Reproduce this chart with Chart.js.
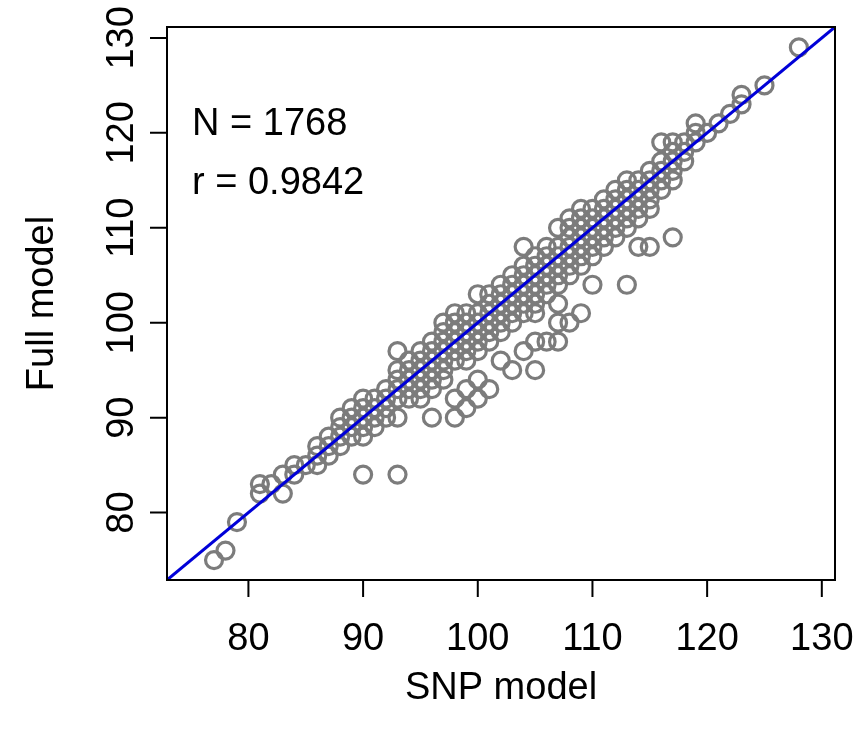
<!DOCTYPE html>
<html>
<head>
<meta charset="utf-8">
<script src="https://cdn.jsdelivr.net/npm/chart.js@4.4.1/dist/chart.umd.min.js"></script>
<style>
  html, body { margin: 0; padding: 0; background: #ffffff; }
  #wrap { width: 856px; height: 733px; }
</style>
</head>
<body>
<div id="wrap"><canvas id="snp-vs-full"></canvas></div>
<script>
// SNP model score (x) and the Full model scores seen at that x (y)
const snpScores = [77, 78, 79, 81, 82, 83, 84, 85, 86, 87, 88, 89, 90, 91, 92, 93, 94, 95, 96, 97,
  98, 99, 100, 101, 102, 103, 104, 105, 106, 107, 108, 109, 110, 111, 112, 113, 114, 115, 116, 117,
  118, 119, 120, 121, 122, 123, 125, 128];
const fullScores = [
  [75], [76], [79], [82, 83], [83], [82, 84], [84, 85], [85], [85, 86, 87], [86, 87, 88],
  [87, 88, 89, 90], [88, 89, 90, 91], [84, 88, 89, 90, 91, 92], [89, 90, 91, 92], [90, 91, 92, 93],
  [84, 90, 92, 93, 94, 95, 97], [92, 93, 94, 95, 96], [92, 93, 94, 95, 96, 97],
  [90, 93, 94, 95, 96, 97, 98], [94, 95, 96, 97, 98, 99, 100],
  [90, 92, 96, 97, 98, 99, 100, 101], [91, 93, 96, 97, 98, 99, 100, 101],
  [92, 94, 97, 98, 99, 100, 101, 103], [93, 98, 99, 100, 101, 102, 103],
  [96, 99, 100, 101, 102, 103, 104], [95, 100, 101, 102, 103, 104, 105],
  [97, 101, 102, 103, 104, 105, 106, 108], [95, 98, 101, 102, 103, 104, 105, 106, 107],
  [98, 103, 104, 105, 106, 107, 108], [98, 100, 102, 104, 105, 106, 107, 108, 110],
  [100, 105, 106, 107, 108, 109, 110, 111], [101, 106, 107, 108, 109, 110, 111, 112],
  [104, 107, 108, 109, 110, 111, 112], [108, 109, 110, 111, 112, 113],
  [109, 110, 111, 112, 113, 114], [104, 110, 111, 112, 113, 114, 115],
  [108, 111, 112, 113, 114, 115], [108, 112, 113, 114, 115, 116],
  [114, 115, 116, 117, 119], [109, 115, 116, 117, 118, 119],
  [117, 118, 119], [119, 120, 121], [120], [121], [122], [123, 124], [125], [129]
];
const tickValues = [80, 90, 100, 110, 120, 130];
const axisRange = [72.9, 131.15];
const sampleSize = 'N = 1768';
const correlation = 'r = 0.9842';

const FONT = '38px "Liberation Sans", Arial, sans-serif';

const points = [];
snpScores.forEach((x, i) => {
  fullScores[i].forEach(y => points.push({ x: x, y: y }));
});

// draws the R-style frame, ticks, labels and the N / r note
const frame = {
  id: 'frame',
  afterDraw(chart) {
    const ctx = chart.ctx;
    const area = chart.chartArea;
    const xs = chart.scales.x;
    const ys = chart.scales.y;
    ctx.save();
    ctx.strokeStyle = '#000000';
    ctx.lineWidth = 2;
    ctx.strokeRect(area.left, area.top, area.right - area.left, area.bottom - area.top);

    ctx.fillStyle = '#000000';
    ctx.font = FONT;
    ctx.beginPath();
    tickValues.forEach(v => {
      const px = xs.getPixelForValue(v);
      ctx.moveTo(px, area.bottom);
      ctx.lineTo(px, area.bottom + 17);
      const py = ys.getPixelForValue(v);
      ctx.moveTo(area.left, py);
      ctx.lineTo(area.left - 17, py);
    });
    ctx.stroke();

    ctx.textAlign = 'center';
    ctx.textBaseline = 'alphabetic';
    tickValues.forEach(v => {
      ctx.fillText(String(v), xs.getPixelForValue(v), 650);
    });
    ctx.fillText('SNP model', (area.left + area.right) / 2, 699);

    tickValues.forEach(v => {
      ctx.save();
      ctx.translate(133, ys.getPixelForValue(v));
      ctx.rotate(-Math.PI / 2);
      ctx.fillText(String(v), 0, 0);
      ctx.restore();
    });
    ctx.save();
    ctx.translate(53, (area.top + area.bottom) / 2);
    ctx.rotate(-Math.PI / 2);
    ctx.fillText('Full model', 0, 0);
    ctx.restore();

    ctx.textAlign = 'left';
    ctx.fillText(sampleSize, 192, 135);
    ctx.fillText(correlation, 192, 194);
    ctx.restore();
  }
};

new Chart(document.getElementById('snp-vs-full'), {
  type: 'scatter',
  data: {
    datasets: [
      {
        type: 'line',
        data: [{ x: axisRange[0], y: axisRange[0] }, { x: axisRange[1], y: axisRange[1] }],
        borderColor: '#0000d8',
        borderWidth: 3,
        pointRadius: 0,
        fill: false,
        order: 0
      },
      {
        data: points,
        pointStyle: 'circle',
        pointRadius: 8.5,
        pointBorderWidth: 3.2,
        pointBorderColor: '#7c7c7c',
        pointBackgroundColor: 'rgba(0,0,0,0)',
        order: 1
      }
    ]
  },
  options: {
    responsive: true,
    maintainAspectRatio: false,
    animation: false,
    layout: { padding: { left: 167, top: 27, right: 21, bottom: 153 } },
    plugins: { legend: { display: false }, tooltip: { enabled: false } },
    scales: {
      x: { type: 'linear', display: false, min: axisRange[0], max: axisRange[1] },
      y: { type: 'linear', display: false, min: axisRange[0], max: axisRange[1] }
    }
  },
  plugins: [frame]
});
</script>
</body>
</html>
